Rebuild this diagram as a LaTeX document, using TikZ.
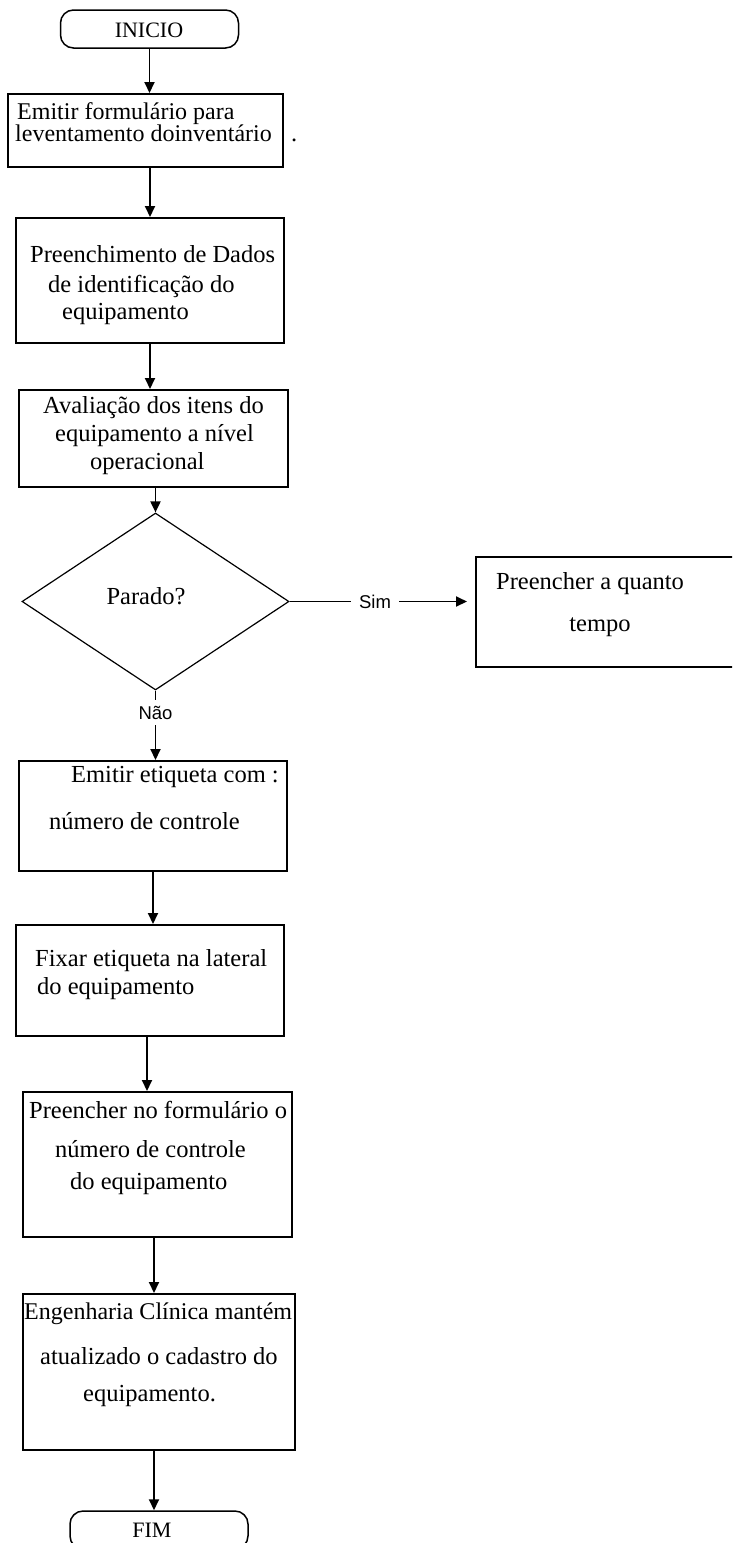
\documentclass[tikz,border=0pt]{standalone}
\usepackage{fontspec}
\setmainfont{Liberation Serif}
\newfontfamily\labelsans{Liberation Sans}
\usetikzlibrary{arrows.meta,shapes.geometric}

\tikzset{
  stepbox/.style={draw, line width=2pt, rectangle, inner sep=0pt},
  endbox/.style={draw, line width=1.5pt, rectangle, rounded corners=13pt, inner sep=0pt,
                 minimum width=178pt, minimum height=38pt},
  decision/.style={draw, line width=1.2pt, diamond, inner sep=0pt,
                   minimum width=267pt, minimum height=177pt},
  txt/.style={inner sep=0pt, anchor=base west, font=\fontsize{24.5}{24}\selectfont},
  ctxt/.style={inner sep=0pt, anchor=base, font=\fontsize{24.5}{24}\selectfont},
  ttxt/.style={inner sep=0pt, anchor=base, font=\fontsize{22}{22}\selectfont},
  branch/.style={inner sep=0pt, font=\labelsans\fontsize{18.5}{18}\selectfont},
  flow/.style={line width=1.9pt, -{Triangle[width=10pt,length=11pt]}}
}

\begin{document}
\begin{tikzpicture}[x=1pt, y=-1pt]
  \useasboundingbox (0,0) rectangle (732,1543);
  \fill[white] (0,0) rectangle (732,1543);
  \clip (0,0) rectangle (732,1543);

  % start
  \node[endbox] (inicio) at (149.5,29) {};
  \node[ttxt] (inicioT) at (149,37) {INICIO};

  % step 1
  \node[stepbox, minimum width=275pt, minimum height=73pt] (b1) at (145.5,130.5) {};
  \node[txt, font=\fontsize{24}{24}\selectfont] (b1a) at (17,119) {Emitir formulário para};
  \node[txt, font=\fontsize{24}{24}\selectfont] (b1b) at (15,141) {leventamento doinventário};
  \node[txt] (b1dot) at (291,141) {.};

  % step 2
  \node[stepbox, minimum width=268pt, minimum height=125pt] (b2) at (150,280.5) {};
  \node[txt] (b2a) at (30,262) {Preenchimento de Dados};
  \node[txt] (b2b) at (48,292) {de identificação do};
  \node[txt] (b2c) at (62,319) {equipamento};

  % step 3
  \node[stepbox, minimum width=269pt, minimum height=97pt] (b3) at (153.5,438.5) {};
  \node[txt] (b3a) at (43,413) {Avaliação dos itens do};
  \node[txt] (b3b) at (55,441) {equipamento a nível};
  \node[txt] (b3c) at (90,469) {operacional};

  % decision
  \node[decision] (d) at (155.5,601.5) {};
  \node[ctxt] (dT) at (146,604) {Parado?};

  % side branch
  \node[stepbox, minimum width=269pt, minimum height=110pt] (side) at (610.5,612) {};
  \node[txt] (sa) at (496,589) {Preencher a quanto};
  \node[ctxt] (sb) at (600,631) {tempo};

  % step 4
  \node[stepbox, minimum width=268pt, minimum height=110pt] (b4) at (153,816) {};
  \node[txt] (b4a) at (71,782) {Emitir etiqueta com :};
  \node[txt] (b4b) at (49,829) {número de controle};

  % step 5
  \node[stepbox, minimum width=268pt, minimum height=111pt] (b5) at (150,980.5) {};
  \node[txt] (b5a) at (35,966) {Fixar etiqueta na lateral};
  \node[txt] (b5b) at (37,994) {do equipamento};

  % step 6
  \node[stepbox, minimum width=269pt, minimum height=145pt] (b6) at (157.5,1164.5) {};
  \node[txt] (b6a) at (29,1118) {Preencher no formulário o};
  \node[txt] (b6b) at (55,1157) {número de controle};
  \node[txt] (b6c) at (70,1189) {do equipamento};

  % step 7
  \node[stepbox, minimum width=272pt, minimum height=156pt] (b7) at (159,1372) {};
  \node[txt, font=\fontsize{24}{24}\selectfont] (b7a) at (24,1319) {Engenharia Clínica mantém};
  \node[txt] (b7b) at (40,1364) {atualizado o cadastro do};
  \node[txt] (b7c) at (83,1401) {equipamento.};

  % end
  \node[endbox] (fim) at (159,1530) {};
  \node[ttxt] (fimT) at (152,1537) {FIM};

  % branch labels
  \node[branch, minimum width=48pt, minimum height=22pt] (sim) at (375,601.5) {Sim};
  \coordinate (simtip) at (467,601.5);
  \node[branch, minimum height=25pt] (nao) at (155.5,712.5) {Não};

  % connectors
  \draw[flow] (inicio.south) -- (inicio.south |- b1.north);
  \draw[flow] (b2.north |- b1.south) -- (b2.north);
  \draw[flow] (b2.south) -- (b2.south |- b3.north);
  \draw[flow] (d.north |- b3.south) -- (d.north);
  \draw[line width=1.3pt] (d.east) -- (sim.west);
  \draw[flow] (sim.east) -- (simtip);
  \draw[line width=1.3pt] (d.south) -- (nao.north);
  \draw[flow] (nao.south) -- (nao.south |- b4.north);
  \draw[flow] (b4.south) -- (b4.south |- b5.north);
  \draw[flow] ([xshift=-3pt]b5.south) -- ([xshift=-3pt]b5.south |- b6.north);
  \draw[flow] ([xshift=-3.5pt]b6.south) -- ([xshift=-3.5pt]b6.south |- b7.north);
  \draw[flow] ([xshift=-5pt]b7.south) -- ([xshift=-5pt]b7.south |- fim.north);
\end{tikzpicture}
\end{document}
